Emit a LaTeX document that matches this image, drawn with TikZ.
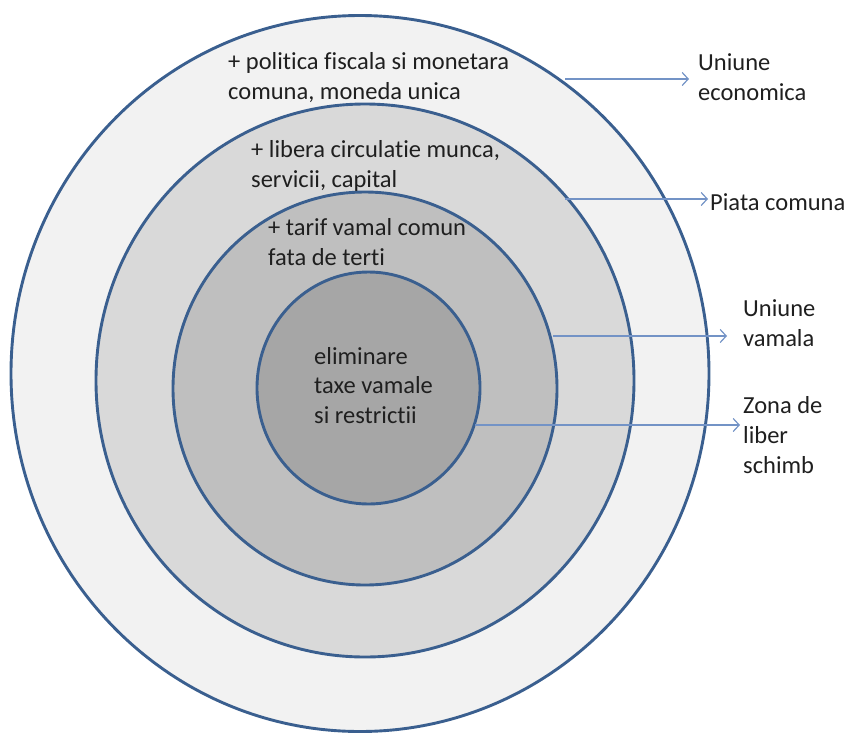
\documentclass[tikz,border=0pt]{standalone}
\usepackage{fontspec}
\setmainfont{Carlito}[Ligatures=NoCommon]
\usetikzlibrary{arrows.meta}
\definecolor{ringline}{HTML}{3A5F8F}
\definecolor{pointercol}{HTML}{7393C6}
\definecolor{ringA}{HTML}{F2F2F2}
\definecolor{ringB}{HTML}{D9D9D9}
\definecolor{ringC}{HTML}{BFBFBF}
\definecolor{ringD}{HTML}{A6A6A6}
\begin{document}
\begin{tikzpicture}[x=1pt,y=-1pt,
  ring/.style={draw=ringline, line width=2.9pt},
  lbl/.style={font=\fontsize{24.5}{29.7}\selectfont, align=left, inner sep=0pt, anchor=base west, text=black!88},
  pointer/.style={draw=pointercol, line width=1.2pt, -{Straight Barb[length=6pt,width=13pt]}}]
\useasboundingbox (0,0) rectangle (848,734);

% nested areas, from the widest to the core
\path[ring, fill=ringA] (360,373.5) ellipse [x radius=349pt, y radius=358pt];
\path[ring, fill=ringB] (365,380.5) ellipse [x radius=269pt, y radius=276.5pt];
\path[ring, fill=ringC] (365,388.5) ellipse [x radius=192pt, y radius=196.5pt];
\path[ring, fill=ringD] (368.5,388) ellipse [x radius=111.5pt, y radius=116pt];

% texts inside the areas (anchored on the baseline of their last line)
\node[lbl] (tEcon) at (228,99) {+ politica fiscala si monetara\\comuna, moneda unica};
\node[lbl] (tPiata) at (251,187) {+ libera circulatie munca,\\servicii, capital};
\node[lbl] (tVam) at (268,265) {+ tarif vamal comun\\fata de terti};
\node[lbl] (tCore) at (314,423.5) {eliminare\\taxe vamale\\si restrictii};

% names of the stages
\node[lbl] (nEcon) at (698,100) {Uniune\\economica};
\node[lbl] (nPiata) at (710,210) {Piata comuna};
\node[lbl] (nVam) at (743,346.5) {Uniune\\vamala};
\node[lbl] (nZona) at (743,473) {Zona de\\liber\\schimb};

% pointers from each area to its name
\coordinate (sEcon) at (565,79);
\coordinate (eEcon) at (689,79);
\coordinate (sPiata) at (565,199);
\coordinate (ePiata) at (708,199);
\coordinate (sVam) at (553,336);
\coordinate (eVam) at (727,336);
\coordinate (sZona) at (475,425);
\coordinate (eZona) at (740,425);
\draw[pointer] (sEcon) -- (eEcon);
\draw[pointer] (sPiata) -- (ePiata);
\draw[pointer] (sVam) -- (eVam);
\draw[pointer] (sZona) -- (eZona);
\end{tikzpicture}
\end{document}
